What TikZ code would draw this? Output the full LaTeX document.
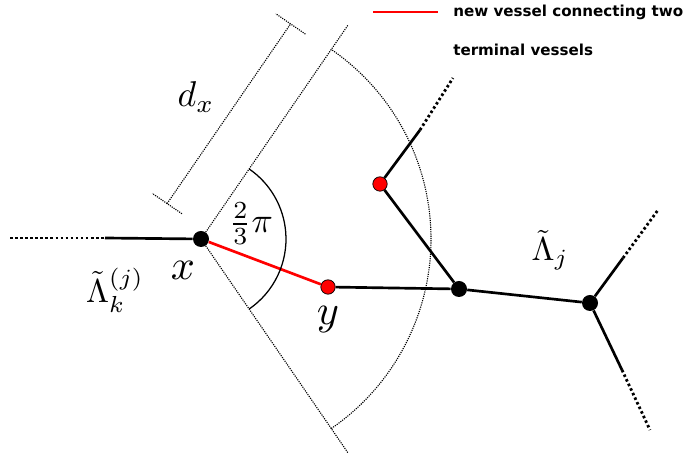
\documentclass[tikz,border=0pt]{standalone}
\usepackage{amsmath,amssymb}
\usepackage{graphicx}
\usepackage{fontspec}
\newfontfamily\legendfont{DejaVu Sans}
\usetikzlibrary{calc}
\newcommand{\maglbl}[2]{\scalebox{#1}{$#2$}}

\begin{document}
\begin{tikzpicture}[
        x=0.025cm, y=0.025cm,
        junc/.style={circle, fill=black, inner sep=0pt, minimum size=0.4cm},
        term/.style={circle, fill=red, draw=black, line width=0.5pt, inner sep=0pt, minimum size=0.36cm},
        vessel/.style={line width=1.9pt},
        newvessel/.style={line width=1.9pt, red},
        vesseldot/.style={line width=2pt, dash pattern=on 1.8pt off 1.8pt},
        guide/.style={line width=0.8pt, dash pattern=on 0.8pt off 0.8pt},
        lbl/.style={inner sep=0pt}
    ]
        \useasboundingbox (0,0) rectangle (689,458);
        % vessel tree
        \node[junc] (x) at (201,219) {};
        \node[term] (y) at (328,171) {};
        \node[junc] (j1) at (459,169) {};
        \node[junc] (j2) at (590,155) {};
        \node[term] (t2) at (380,274) {};
        \coordinate (xin0) at (10,220);
        \coordinate (xin) at (105,220);
        \coordinate (t2out) at (420,328);
        \coordinate (t2out0) at (453,380);
        \coordinate (j2up) at (623,200);
        \coordinate (j2up0) at (658,248);
        \coordinate (j2dn) at (622,88);
        \coordinate (j2dn0) at (650,28);
        \draw[vesseldot] (xin0) -- (xin);
        \draw[vessel] (xin) -- (x);
        \draw[newvessel] (x) -- (y);
        \draw[vessel] (y) -- (j1);
        \draw[vessel] (t2) -- (j1);
        \draw[vessel] (j1) -- (j2);
        \draw[vessel] (t2) -- (t2out);
        \draw[vesseldot] (t2out) -- (t2out0);
        \draw[vessel] (j2) -- (j2up);
        \draw[vesseldot] (j2up) -- (j2up0);
        \draw[vessel] (j2) -- (j2dn);
        \draw[vesseldot] (j2dn) -- (j2dn0);
        % search cone
        \draw[guide] (x) -- ($(x.center)+(55.5:260)$);
        \draw[guide] (x) -- ($(x.center)+(-55.5:260)$);
        \draw[guide] ($(x.center)+(-55.5:230)$) arc[start angle=-55.5, end angle=55.5, radius=230];
        \draw[line width=0.9pt] ($(x.center)+(-55.5:85)$) arc[start angle=-55.5, end angle=55.5, radius=85];
        % distance d_x
        \begin{scope}[shift={(x.center)}, rotate=55.5]
            \draw[guide] (10,48) -- (228,48);
            \draw[guide] (10,30) -- (10,66);
            \draw[guide] (228,30) -- (228,66);
        \end{scope}
        % labels
        \node[lbl] (dx) at (196,361) {\maglbl{2.55}{d_x}};
        \node[lbl] (ang) at (251,234) {\maglbl{2.5}{\frac{2}{3}\pi}};
        \node[lbl] (xl) at (183,188) {\maglbl{3}{x}};
        \node[lbl] (yl) at (328,138) {\maglbl{3}{y}};
        \node[lbl] (lk) at (115,168) {\maglbl{2.35}{\tilde{\Lambda}_k^{(j)}}};
        \node[lbl] (lj) at (550,208) {\maglbl{2.35}{\tilde{\Lambda}_j}};
        % legend
        \coordinate (leg0) at (373,446);
        \coordinate (leg1) at (438,446);
        \draw[red, line width=1.2pt] (leg0) -- (leg1);
        \node[lbl, anchor=west, font=\legendfont\bfseries\fontsize{10.75}{13}\selectfont] (leg) at (453,446) {new vessel connecting two};
        \node[lbl, anchor=west, font=\legendfont\bfseries\fontsize{10.75}{13}\selectfont] (leg2) at (453,408) {terminal vessels};
    \end{tikzpicture}
\end{document}
